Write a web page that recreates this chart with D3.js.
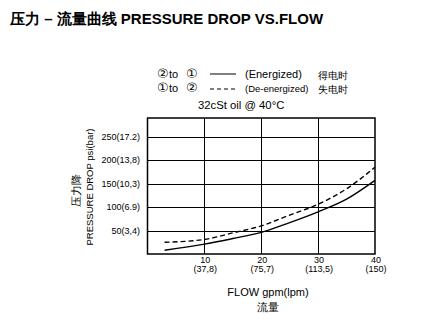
<!DOCTYPE html>
<html>
<head>
<meta charset="utf-8">
<script src="https://cdn.jsdelivr.net/npm/d3@7"></script>
<style>
  body { margin: 0; background: #fff; }
  svg { display: block; font-family: "Liberation Sans", Arial, sans-serif; }
</style>
</head>
<body>
<svg id="chart" width="425" height="331"></svg>
<script>
// Flow (gpm) sample points and pressure drop (psi) for each direction
const flow = [3, 10, 15, 20, 25, 30, 35, 40];
const energized = [8, 21, 33, 46, 67, 90, 117, 157];
const deEnergized = [25, 31, 45, 60, 83, 106, 139, 185];

const xTicks = [10, 20, 30, 40];
const xTickLpm = ["(37,8)", "(75,7)", "(113,5)", "(150)"];
const yTicks = [50, 100, 150, 200, 250];
const yTickBar = ["(3,4)", "(6.9)", "(10,3)", "(13,8)", "(17.2)"];

const svg = d3.select("#chart");
const m = { left: 147.5, right: 375, top: 118, bottom: 254 };

const x = d3.scaleLinear().domain([0, 40]).range([m.left, m.right]);
const y = d3.scaleLinear().domain([0, 290]).range([m.bottom, m.top]);

// Title
svg.append("text")
  .attr("x", 10).attr("y", 24)
  .attr("font-size", 15).attr("font-weight", "bold")
  .text("压力 – 流量曲线 PRESSURE DROP VS.FLOW");

// Legend
const leg = svg.append("g").attr("font-size", 11);
function dirLabel(yPos, from, to) {
  leg.append("text").attr("x", 157).attr("y", yPos)
    .attr("font-size", 13).attr("font-family", "DejaVu Sans").text(from);
  leg.append("text").attr("x", 169).attr("y", yPos).text("to");
  leg.append("text").attr("x", 186).attr("y", yPos)
    .attr("font-size", 13).attr("font-family", "DejaVu Sans").text(to);
}
dirLabel(78, "②", "①");
leg.append("line").attr("x1", 210).attr("x2", 236).attr("y1", 74).attr("y2", 74)
  .attr("stroke", "#000").attr("stroke-width", 1);
leg.append("text").attr("x", 245).attr("y", 78).text("(Energized)");
leg.append("text").attr("x", 318).attr("y", 79).attr("font-size", 10).text("得电时");

dirLabel(92, "①", "②");
leg.append("line").attr("x1", 210).attr("x2", 236).attr("y1", 89).attr("y2", 89)
  .attr("stroke", "#000").attr("stroke-width", 1).attr("stroke-dasharray", "4,3");
leg.append("text").attr("x", 245).attr("y", 92).attr("font-size", 9.5).text("(De-energized)");
leg.append("text").attr("x", 318).attr("y", 93).attr("font-size", 10).text("失电时");

svg.append("text").attr("x", 198).attr("y", 109).attr("font-size", 11.3)
  .text("32cSt oil @ 40°C");

// Grid
const grid = svg.append("g").attr("stroke", "#000").attr("stroke-width", 1);
yTicks.forEach(v => {
  grid.append("line").attr("x1", m.left).attr("x2", m.right)
    .attr("y1", Math.round(y(v)) + 0.5).attr("y2", Math.round(y(v)) + 0.5);
});
xTicks.slice(0, 3).forEach(v => {
  grid.append("line").attr("y1", m.top).attr("y2", m.bottom)
    .attr("x1", Math.round(x(v)) + 0.5).attr("x2", Math.round(x(v)) + 0.5);
});
svg.append("rect")
  .attr("x", m.left).attr("y", m.top)
  .attr("width", m.right - m.left).attr("height", m.bottom - m.top)
  .attr("fill", "none").attr("stroke", "#000").attr("stroke-width", 1.5);

// Y tick labels
const yl = svg.append("g").attr("font-size", 9).attr("text-anchor", "end");
yTicks.forEach((v, i) => {
  yl.append("text").attr("x", 140).attr("y", y(v) + 3).text(v + yTickBar[i]);
});

// X tick labels
const xl = svg.append("g").attr("font-size", 9).attr("text-anchor", "middle");
xTicks.forEach((v, i) => {
  xl.append("text").attr("x", x(v) + 1).attr("y", 263).text(v);
  xl.append("text").attr("x", x(v) + 1).attr("y", 272).text(xTickLpm[i]);
});

// Axis titles
svg.append("text")
  .attr("transform", "translate(93,187) rotate(-90)")
  .attr("text-anchor", "middle").attr("font-size", 9.5)
  .text("PRESSURE DROP psi(bar)");
svg.append("text")
  .attr("transform", "translate(80,190) rotate(-90)")
  .attr("text-anchor", "middle").attr("font-size", 11)
  .text("压力降");
svg.append("text").attr("x", 268).attr("y", 296)
  .attr("text-anchor", "middle").attr("font-size", 11)
  .text("FLOW gpm(lpm)");
svg.append("text").attr("x", 268).attr("y", 311)
  .attr("text-anchor", "middle").attr("font-size", 10.5)
  .text("流量");

// Curves
const line = d3.line()
  .x(d => x(d[0]))
  .y(d => y(d[1]))
  .curve(d3.curveMonotoneX);

svg.append("path")
  .datum(flow.map((f, i) => [f, energized[i]]))
  .attr("d", line).attr("fill", "none")
  .attr("stroke", "#000").attr("stroke-width", 1.4);

svg.append("path")
  .datum(flow.map((f, i) => [f, deEnergized[i]]))
  .attr("d", line).attr("fill", "none")
  .attr("stroke", "#000").attr("stroke-width", 1.4)
  .attr("stroke-dasharray", "5,3");
</script>
</body>
</html>
